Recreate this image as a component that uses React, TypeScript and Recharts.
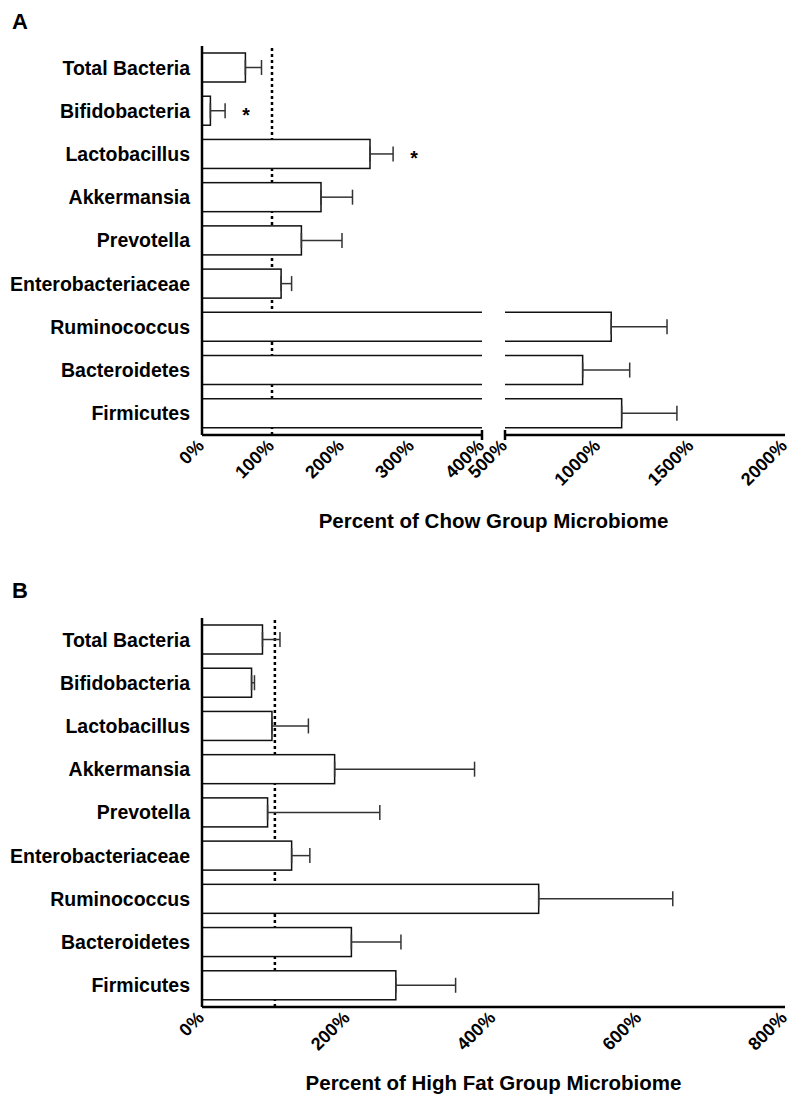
import React from "react";
import {
  Bar,
  BarChart,
  ErrorBar,
  LabelList,
  ReferenceLine,
  XAxis,
  YAxis,
} from "recharts";

const FONT = "'Liberation Sans', Arial, Helvetica, sans-serif";

const taxa = [
  "Total Bacteria",
  "Bifidobacteria",
  "Lactobacillus",
  "Akkermansia",
  "Prevotella",
  "Enterobacteriaceae",
  "Ruminococcus",
  "Bacteroidetes",
  "Firmicutes",
];

// A: percent of chow group (mean, mean + SEM)
const chowMean = [62, 12, 240, 170, 142, 113, 1069, 916, 1125];
const chowUpper = [85, 33, 273, 215, 200, 128, 1368, 1168, 1421];
const chowSig = ["", "*", "*", "", "", "", "", "", ""];

// B: percent of high fat group (mean, mean + SEM)
const hfMean = [83, 68, 96, 182, 90, 123, 462, 205, 266];
const hfUpper = [107, 72, 146, 374, 244, 148, 646, 273, 348];

// broken axis for A: 0-400 | 500-2000
const chowLowTicks = [0, 100, 200, 300, 400];
const chowHighTicks = [500, 1000, 1500, 2000];
const hfTicks = [0, 200, 400, 600, 800];

const LOW_MAX = 400;
const HIGH_MIN = 500;

const chowLowData = taxa.map((name, i) => ({
  name,
  v: chowMean[i],
  err: chowMean[i] <= LOW_MAX ? [0, chowUpper[i] - chowMean[i]] : undefined,
}));

const chowHighData = taxa.map((name, i) => ({
  name,
  v: chowMean[i] >= HIGH_MIN ? chowMean[i] : null,
  err: chowMean[i] >= HIGH_MIN ? [0, chowUpper[i] - chowMean[i]] : undefined,
}));

const hfData = taxa.map((name, i) => ({
  name,
  v: hfMean[i],
  err: [0, hfUpper[i] - hfMean[i]],
}));

const BAR_STROKE = "#111";
const ERR_STROKE = "#333";

// bars that run past the axis break are drawn open on the cut side
function lowSegmentBar(limit: number) {
  return (p: any) => {
    const { x, y, width, height, payload, background } = p;
    if (payload.v > limit) {
      const right = background ? background.x + background.width : x + width;
      return (
        <path
          d={`M${right},${y} H${x} V${y + height} H${right}`}
          fill="#fff"
          stroke={BAR_STROKE}
          strokeWidth={1.5}
        />
      );
    }
    return (
      <rect x={x} y={y} width={width} height={height} fill="#fff" stroke={BAR_STROKE} strokeWidth={1.5} />
    );
  };
}

function highSegmentBar(p: any) {
  const { x, y, width, height } = p;
  return (
    <path
      d={`M${x},${y} H${x + width} V${y + height} H${x}`}
      fill="#fff"
      stroke={BAR_STROKE}
      strokeWidth={1.5}
    />
  );
}

function makeTick(breakAt?: number) {
  return (props: any) => {
    const { x, y, payload } = props;
    return (
      <g transform={`translate(${x},${y})`}>
        {payload.value === breakAt && (
          <line x1={0} y1={-5} x2={0} y2={5} stroke="#000" strokeWidth={2.5} />
        )}
        <text
          x={3}
          y={12}
          transform="rotate(-45 3 12)"
          textAnchor="end"
          fontSize={18}
          fontWeight="bold"
          fontFamily={FONT}
          fill="#000"
        >
          {payload.value}%
        </text>
      </g>
    );
  };
}

function renderSig(props: any) {
  const i = taxa.indexOf(props.value);
  if (i < 0 || !chowSig[i]) return null;
  const vb = props.viewBox ?? props;
  const { x, y, width, height } = vb;
  const errEnd = x + width * (chowUpper[i] / chowMean[i]);
  return (
    <text
      x={errEnd + 21}
      y={y + height / 2 + 11}
      textAnchor="middle"
      fontSize={19.5}
      fontWeight="bold"
      fontFamily={FONT}
      fill="#000"
    >
      {chowSig[i]}
    </text>
  );
}

const categoryTick = {
  fill: "#000",
  fontSize: 19.5,
  fontWeight: "bold",
  fontFamily: FONT,
};

const axisStyle = { stroke: "#000", strokeWidth: 2.5 };

function PanelLetter({ text, top }: { text: string; top: number }) {
  return (
    <div
      style={{
        position: "absolute",
        left: 12,
        top,
        fontSize: 22,
        lineHeight: "22px",
        fontWeight: "bold",
        fontFamily: FONT,
      }}
    >
      {text}
    </div>
  );
}

function AxisTitle({ text, top }: { text: string; top: number }) {
  return (
    <div
      style={{
        position: "absolute",
        left: 202,
        width: 583,
        top,
        textAlign: "center",
        fontSize: 20.5,
        lineHeight: "20px",
        fontWeight: "bold",
        fontFamily: FONT,
      }}
    >
      {text}
    </div>
  );
}

export default function App() {
  return (
    <div
      style={{
        position: "absolute",
        left: 0,
        top: 0,
        width: 790,
        height: 1099,
        background: "#fff",
        fontFamily: FONT,
        overflow: "hidden",
      }}
    >
      <style>{`.recharts-surface { overflow: visible; }`}</style>

      <PanelLetter text="A" top={11} />

      {/* A, left segment: 0-400% */}
      <div style={{ position: "absolute", left: 0, top: 46 }}>
        <BarChart
          width={495}
          height={459}
          data={chowLowData}
          layout="vertical"
          margin={{ top: 0, right: 13, bottom: 0, left: 0 }}
          barSize={29}
        >
          <ReferenceLine x={100} stroke="#000" strokeWidth={2.5} strokeDasharray="3 3" zIndex={-10} />
          <XAxis
            type="number"
            domain={[0, LOW_MAX]}
            ticks={chowLowTicks}
            interval={0}
            allowDataOverflow
            height={70}
            axisLine={axisStyle}
            tickLine={false}
            tickSize={0}
            tickMargin={0}
            tick={makeTick(LOW_MAX)}
          />
          <YAxis
            type="category"
            dataKey="name"
            width={202}
            axisLine={axisStyle}
            tickLine={false}
            tickSize={0}
            tickMargin={12}
            interval={0}
            tick={categoryTick}
          />
          <Bar dataKey="v" isAnimationActive={false} shape={lowSegmentBar(LOW_MAX)}>
            <ErrorBar dataKey="err" direction="x" width={7.5} stroke={ERR_STROKE} strokeWidth={1.5} />
            <LabelList dataKey="name" content={renderSig} />
          </Bar>
        </BarChart>
      </div>

      {/* A, right segment: 500-2000% */}
      <div style={{ position: "absolute", left: 497, top: 46 }}>
        <BarChart
          width={293}
          height={459}
          data={chowHighData}
          layout="vertical"
          margin={{ top: 0, right: 5, bottom: 0, left: 8 }}
          barSize={29}
        >
          <XAxis
            type="number"
            domain={[HIGH_MIN, 2000]}
            ticks={chowHighTicks}
            interval={0}
            allowDataOverflow
            height={70}
            axisLine={axisStyle}
            tickLine={false}
            tickSize={0}
            tickMargin={0}
            tick={makeTick(HIGH_MIN)}
          />
          <YAxis type="category" dataKey="name" hide />
          <Bar dataKey="v" isAnimationActive={false} shape={highSegmentBar}>
            <ErrorBar dataKey="err" direction="x" width={7.5} stroke={ERR_STROKE} strokeWidth={1.5} />
          </Bar>
        </BarChart>
      </div>

      <AxisTitle text="Percent of Chow Group Microbiome" top={511} />

      <PanelLetter text="B" top={580} />

      <div style={{ position: "absolute", left: 0, top: 618 }}>
        <BarChart
          width={790}
          height={459}
          data={hfData}
          layout="vertical"
          margin={{ top: 0, right: 5, bottom: 0, left: 0 }}
          barSize={29}
        >
          <ReferenceLine x={100} stroke="#000" strokeWidth={2.5} strokeDasharray="3 3" zIndex={-10} />
          <XAxis
            type="number"
            domain={[0, 800]}
            ticks={hfTicks}
            interval={0}
            allowDataOverflow
            height={70}
            axisLine={axisStyle}
            tickLine={false}
            tickSize={0}
            tickMargin={0}
            tick={makeTick()}
          />
          <YAxis
            type="category"
            dataKey="name"
            width={202}
            axisLine={axisStyle}
            tickLine={false}
            tickSize={0}
            tickMargin={12}
            interval={0}
            tick={categoryTick}
          />
          <Bar dataKey="v" isAnimationActive={false} shape={lowSegmentBar(800)}>
            <ErrorBar dataKey="err" direction="x" width={7.5} stroke={ERR_STROKE} strokeWidth={1.5} />
          </Bar>
        </BarChart>
      </div>

      <AxisTitle text="Percent of High Fat Group Microbiome" top={1073} />
    </div>
  );
}
